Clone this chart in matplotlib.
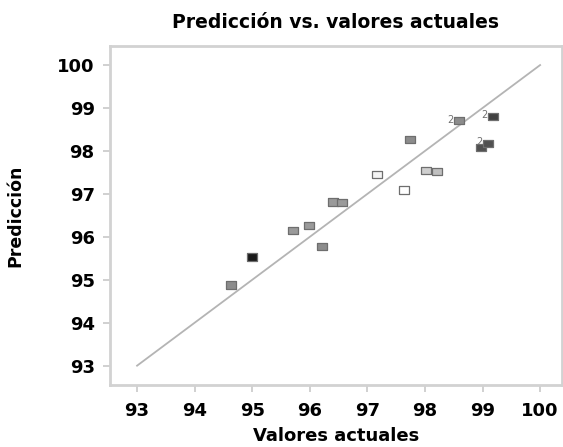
import matplotlib.pyplot as plt

# actual vs predicted values
actual = [94.63, 94.99, 95.71, 95.99, 96.22, 96.41, 96.56, 97.17, 97.64,
          97.74, 98.01, 98.21, 98.59, 98.97, 99.10, 99.19]
predicted = [94.88, 95.53, 96.14, 96.26, 95.77, 96.81, 96.80, 97.46, 97.09,
             98.27, 97.55, 97.52, 98.70, 98.08, 98.18, 98.80]
fills = ['#8c8c8c', '#1a1a1a', '#9a9a9a', '#9a9a9a', '#8c8c8c', '#9a9a9a', '#9a9a9a', '#f4f4f4', '#ffffff',
         '#8c8c8c', '#cfcfcf', '#c0c0c0', '#8c8c8c', '#505050', '#505050', '#404040']
counts = [1, 1, 1, 1, 1, 1, 1, 1, 1, 1, 1, 1, 2, 1, 2, 2]
ticks = [93, 94, 95, 96, 97, 98, 99, 100]

fig = plt.figure(figsize=(5.63, 4.47), dpi=100)
ax = fig.add_axes([0.1954, 0.1387, 0.8028, 0.758])

ax.plot([93, 100], [93, 100], color='#b4b4b4', lw=1.3, zorder=1)

box = [(-1.4, -1), (1.4, -1), (1.4, 1), (-1.4, 1), (-1.4, -1)]
ax.scatter(actual, predicted, marker=box, s=52, c=fills, edgecolors='#6e6e6e',
           linewidths=0.9, zorder=3)
for x, y, n in zip(actual, predicted, counts):
    if n > 1:
        ax.text(x - 0.1, y + 0.03, str(n), fontsize=7, color='#707070',
                ha='right', va='center', zorder=2)

ax.set_xlim(92.53, 100.38)
ax.set_ylim(92.55, 100.44)
ax.set_xticks(ticks)
ax.set_yticks(ticks)
ax.tick_params(direction='out', length=5, width=1.2, color='#c8c8c8',
               labelsize=13, pad=6)
ax.tick_params(axis='x', pad=7)
for lab in ax.get_xticklabels() + ax.get_yticklabels():
    lab.set_fontweight('bold')
for side in ['left', 'bottom', 'top', 'right']:
    ax.spines[side].set_color('#d2d2d2')
    ax.spines[side].set_linewidth(2)

ax.set_title('Predicción vs. valores actuales', fontsize=13.5, fontweight='bold', pad=13)
ax.set_xlabel('Valores actuales', fontsize=13, fontweight='bold', labelpad=5)
ax.set_ylabel('Predicción', fontsize=12.5, fontweight='bold', labelpad=24)

fig.savefig('out.png', dpi=100)
